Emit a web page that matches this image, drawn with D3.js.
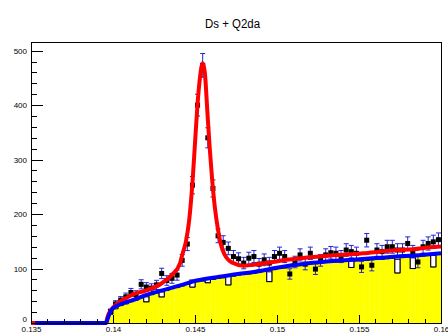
<!DOCTYPE html>
<html>
<head>
<meta charset="utf-8">
<script src="https://cdn.jsdelivr.net/npm/d3@7"></script>
<style>
  html, body { margin: 0; padding: 0; background: #fff; }
  svg { display: block; }
  text { font-family: "Liberation Sans", Arial, sans-serif; }
</style>
</head>
<body>
<svg id="chart" width="448" height="335"></svg>
<script>
// ---------------- data ----------------
const title = "Ds + Q2da";
const binLow = 0.135, binHigh = 0.16, nBins = 80;

// data histogram (counts per bin, 80 bins)
const counts = [
  0,0,0,0,0,0,0,0,0,0,
  0,0,0,0,0,21,35,42,48,56,
  52,71,66,64,70,91,78,82,88,115,
  145,253,400,473,340,247,160,148,137,122,
  118,110,119,122,108,116,110,122,128,122,
  90,112,125,108,128,99,115,125,129,128,
  122,134,131,128,103,152,106,134,131,140,
  140,134,134,146,131,112,140,146,149,153
];

// yellow background histogram (80 bins)
const bgFill = [
  0,0,0,0,0,0,0,0,0,0,
  0,0,0,0,0,16,26,32,35,39,
  42,46,39,52,55,48,60,63,65,68,
  71,66,76,77,74,80,82,83,70,86,
  88,89,90,91,93,95,76,98,100,101,
  103,105,106,108,109,110,110,111,111,112,
  112,113,102,114,115,115,116,117,117,118,
  119,92,120,121,100,123,123,124,103,126
];

// bins where the outlined background sits above the yellow fill
const boxBins = [22, 25, 31, 34, 38, 46, 62, 71, 74, 78];
const boxTop  = [48, 57, 79, 80, 88, 94, 114, 117, 120, 124];

// total fit (red), sampled
const redX = [0.135,0.13957,0.13962,0.13971,0.14002,0.14063,0.14094,0.14124,0.14195,0.14297,
  0.14358,0.14409,0.14425,0.14445,0.14465,0.14485,0.14500,0.14515,0.14530,0.14547,
  0.14560,0.14575,0.14590,0.14605,0.14620,0.14640,0.14660,0.14680,0.14700,0.14733,
  0.14795,0.14856,0.14957,0.15059,0.1516,0.15262,0.15372,0.15526,0.15628,0.1573,
  0.15831,0.15933,0.16];
const redY = [0,0,5.5,14.7,29,43,48,53,59,73,
  88,110,128,150,190,260,330,400,450,477,
  460,390,320,262,215,172,142,126,117,110,
  105,107,111,116,119.5,122,125,128,131,134,
  135.5,139,140.5];

// background fit (blue), sampled
const blueX = [0.13525,0.13957,0.1397,0.1398,0.1400,0.1406,0.1412,0.1420,0.1430,0.1441,
  0.1451,0.1465,0.1476,0.1489,0.1499,0.1509,0.1519,0.1529,0.1541,0.1552,
  0.1564,0.1575,0.1588,0.1600];
const blueY = [0,0,10,18,27,36,42,51,60,69,
  78,85,90,95,101,106,109.5,112.5,115,117.5,
  120,122.5,125,128];

const xTicks = [0.135, 0.14, 0.145, 0.15, 0.155, 0.16];
const xTickLabels = ["0.135", "0.14", "0.145", "0.15", "0.155", "0.16"];
const yTicks = [0, 100, 200, 300, 400, 500];
const yMax = 515;

// ---------------- drawing ----------------
const svg = d3.select("#chart");
const frame = { left: 31, right: 441, top: 42.5, bottom: 323 };

const x = d3.scaleLinear().domain([binLow, binHigh]).range([frame.left, frame.right]);
const y = d3.scaleLinear().domain([0, yMax]).range([frame.bottom, frame.top]);
const bw = (binHigh - binLow) / nBins;
const binLo = i => binLow + i * bw;
const binC = i => binLow + (i + 0.5) * bw;

const plot = svg.append("g");

// yellow filled histogram
const fillBins = d3.range(nBins).filter(i => bgFill[i] > 0);
plot.append("g").selectAll("rect").data(fillBins).join("rect")
  .attr("x", i => x(binLo(i)))
  .attr("width", i => x(binLo(i + 1)) - x(binLo(i)) + 0.3)
  .attr("y", i => y(bgFill[i]))
  .attr("height", i => y(0) - y(bgFill[i]))
  .attr("fill", "#ffff00");

// histogram step outline
let stepPts = [];
d3.range(nBins).forEach(i => {
  stepPts.push([binLo(i), bgFill[i]]);
  stepPts.push([binLo(i + 1), bgFill[i]]);
});
plot.append("path")
  .attr("d", d3.line().x(d => x(d[0])).y(d => y(d[1])).curve(d3.curveLinear)(stepPts))
  .attr("fill", "none").attr("stroke", "#000").attr("stroke-width", 1);

// white outlined boxes
plot.append("g").selectAll("rect").data(boxBins.map((b, j) => ({ b, top: boxTop[j] }))).join("rect")
  .attr("x", d => x(binLo(d.b)))
  .attr("width", d => x(binLo(d.b + 1)) - x(binLo(d.b)))
  .attr("y", d => y(d.top))
  .attr("height", d => y(bgFill[d.b]) - y(d.top))
  .attr("fill", "#fff").attr("stroke", "#000").attr("stroke-width", 1);

// data points with error bars
const pts = d3.range(nBins).filter(i => counts[i] > 0).map(i => ({
  xc: binC(i), v: counts[i], e: Math.sqrt(counts[i])
}));
const eb = plot.append("g").attr("stroke", "#2424d8").attr("stroke-width", 1);
eb.selectAll("line.v").data(pts).join("line").attr("class", "v")
  .attr("x1", d => x(d.xc)).attr("x2", d => x(d.xc))
  .attr("y1", d => y(d.v - d.e)).attr("y2", d => y(d.v + d.e));
eb.selectAll("line.t").data(pts).join("line").attr("class", "t")
  .attr("x1", d => x(d.xc) - 2.5).attr("x2", d => x(d.xc) + 2.5)
  .attr("y1", d => y(d.v + d.e)).attr("y2", d => y(d.v + d.e));
eb.selectAll("line.b").data(pts).join("line").attr("class", "b")
  .attr("x1", d => x(d.xc) - 2.5).attr("x2", d => x(d.xc) + 2.5)
  .attr("y1", d => y(d.v - d.e)).attr("y2", d => y(d.v - d.e));
plot.append("g").selectAll("rect").data(pts).join("rect")
  .attr("x", d => x(d.xc) - 2.5).attr("y", d => y(d.v) - 2.5)
  .attr("width", 5).attr("height", 5).attr("fill", "#000");

// fit curves
const lineGen = d3.line().x(d => x(d[0])).y(d => y(d[1])).curve(d3.curveMonotoneX);
plot.append("path").attr("d", lineGen(redX.map((v, i) => [v, redY[i]])))
  .attr("fill", "none").attr("stroke", "#ff0000").attr("stroke-width", 4)
  .attr("stroke-linejoin", "round");
plot.append("path").attr("d", lineGen(blueX.map((v, i) => [v, blueY[i]])))
  .attr("fill", "none").attr("stroke", "#0000ff").attr("stroke-width", 4)
  .attr("stroke-linejoin", "round");

// frame
svg.append("rect")
  .attr("x", frame.left).attr("y", frame.top)
  .attr("width", frame.right - frame.left).attr("height", frame.bottom - frame.top)
  .attr("fill", "none").attr("stroke", "#000").attr("stroke-width", 1)
  .attr("shape-rendering", "crispEdges");

// axes
const yMinor = d3.range(0, 501, 20);
const xMinor = d3.range(0, 26).map(i => binLow + i * 0.001);

const yAxisMinor = svg.append("g").attr("transform", `translate(${frame.left},0)`)
  .call(d3.axisLeft(y).tickValues(yMinor).tickSizeInner(-6).tickSizeOuter(0).tickFormat(""));
const yAxis = svg.append("g").attr("transform", `translate(${frame.left},0)`)
  .call(d3.axisLeft(y).tickValues(yTicks).tickSizeInner(-12).tickSizeOuter(0).tickPadding(4));
const xAxisMinor = svg.append("g").attr("transform", `translate(0,${frame.bottom})`)
  .call(d3.axisBottom(x).tickValues(xMinor).tickSizeInner(-4.2).tickSizeOuter(0).tickFormat(""));
const xAxis = svg.append("g").attr("transform", `translate(0,${frame.bottom})`)
  .call(d3.axisBottom(x).tickValues(xTicks).tickSizeInner(-8.4).tickSizeOuter(0).tickPadding(3)
    .tickFormat((d, i) => xTickLabels[i]));

[yAxisMinor, yAxis, xAxisMinor, xAxis].forEach(g => {
  g.select(".domain").remove();
  g.selectAll("line").attr("stroke", "#000").attr("shape-rendering", "crispEdges");
  g.selectAll("text").attr("font-size", 8).attr("fill", "#000")
    .attr("font-family", "'Liberation Sans', Arial, sans-serif");
});
// lift the "0" label so it clears the first x label (as in the reference)
yAxis.selectAll(".tick").filter(d => d === 0).select("text").attr("dy", "-0.25em");

// title
svg.append("text").attr("x", 232.5).attr("y", 28).attr("text-anchor", "middle")
  .attr("font-size", 12.5).attr("fill", "#000")
  .attr("textLength", 55).attr("lengthAdjust", "spacingAndGlyphs")
  .text(title);
</script>
</body>
</html>
